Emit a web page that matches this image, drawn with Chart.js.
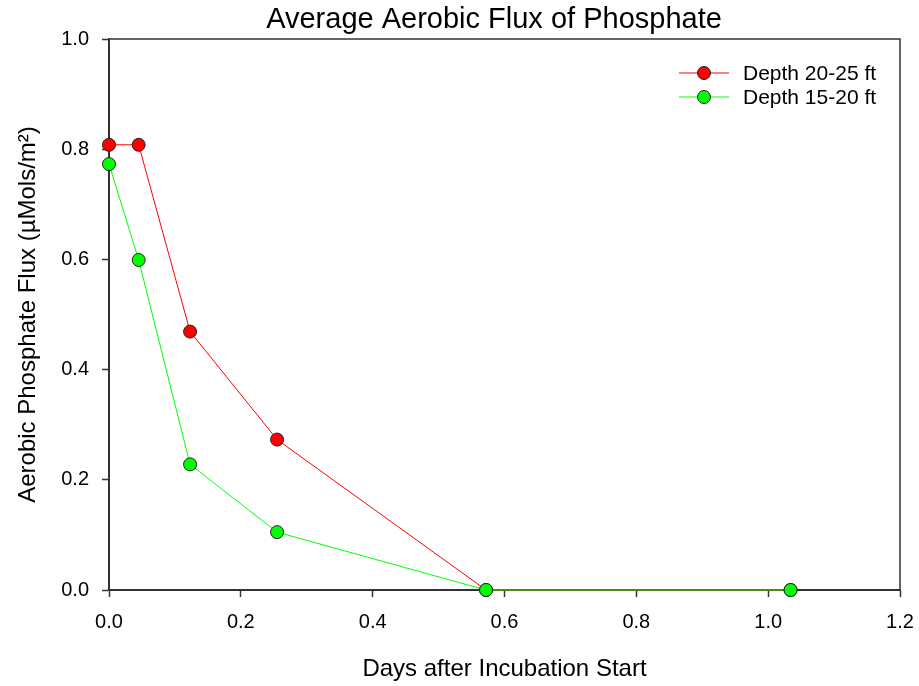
<!DOCTYPE html>
<html>
<head>
<meta charset="utf-8">
<script src="https://cdn.jsdelivr.net/npm/chart.js@4/dist/chart.umd.min.js"></script>
<style>
    html, body { margin: 0; padding: 0; background: #fff; }
    #wrap { width: 919px; height: 686px; position: relative; }
</style>
</head>
<body>
<div id="wrap"><canvas id="fluxChart"></canvas></div>
<script>
// values
const days = [0, 0.045, 0.123, 0.255, 0.572, 1.034];
const depth2025 = [0.808, 0.808, 0.469, 0.273, 0, 0];
const depth1520 = [0.773, 0.599, 0.228, 0.105, 0, 0];
const xTicks = [0, 0.2, 0.4, 0.6, 0.8, 1.0, 1.2];
const yTicks = [0, 0.2, 0.4, 0.6, 0.8, 1.0];

const FONT = "Arial, 'Liberation Sans', sans-serif";
const AXIS = "#333";

const toPoints = (ys) => days.map((d, i) => ({ x: d, y: ys[i] }));

// box round the plot, title and the little legend in the top right
const framePlugin = {
    id: "frame",
    beforeDatasetsDraw(chart) {
        const { ctx, chartArea: a } = chart;
        ctx.save();
        ctx.strokeStyle = AXIS;
        ctx.lineWidth = 1.5;
        ctx.strokeRect(a.left, a.top, a.right - a.left, a.bottom - a.top);
        ctx.restore();
    },
    afterDraw(chart) {
        const { ctx } = chart;
        ctx.save();
        ctx.fillStyle = "#000";
        ctx.font = "29px " + FONT;
        ctx.textAlign = "center";
        ctx.textBaseline = "middle";
        ctx.fillText("Average Aerobic Flux of Phosphate", 494, 20);

        const rows = [73, 97];
        chart.data.datasets.forEach((ds, i) => {
            const y = rows[i];
            ctx.strokeStyle = ds.borderColor;
            ctx.lineWidth = 1;
            ctx.beginPath();
            ctx.moveTo(679, y);
            ctx.lineTo(729, y);
            ctx.stroke();
            ctx.beginPath();
            ctx.arc(704, y, 6.5, 0, Math.PI * 2);
            ctx.fillStyle = ds.pointBackgroundColor;
            ctx.fill();
            ctx.strokeStyle = ds.pointBorderColor;
            ctx.stroke();
            ctx.fillStyle = "#000";
            ctx.font = "21px " + FONT;
            ctx.textAlign = "left";
            ctx.fillText(ds.label, 743, y + 1);
        });
        ctx.restore();
    },
};

new Chart(document.getElementById("fluxChart"), {
    type: "scatter",
    data: {
        datasets: [
            {
                label: "Depth 20-25 ft",
                data: toPoints(depth2025),
                showLine: true,
                borderColor: "#ff0000",
                borderWidth: 1,
                pointBackgroundColor: "#ff0000",
                pointBorderColor: "#222",
                pointBorderWidth: 1,
                pointRadius: 6.5,
                clip: false,
                order: 2,
            },
            {
                label: "Depth 15-20 ft",
                data: toPoints(depth1520),
                showLine: true,
                borderColor: "#00ff00",
                borderWidth: 1,
                pointBackgroundColor: "#00ff00",
                pointBorderColor: "#222",
                pointBorderWidth: 1,
                pointRadius: 6.5,
                clip: false,
                order: 1,
            },
        ],
    },
    options: {
        responsive: true,
        maintainAspectRatio: false,
        animation: false,
        layout: { padding: { top: 39, right: 19, left: 0, bottom: 0 } },
        plugins: {
            legend: { display: false },
            title: { display: false },
            tooltip: { enabled: false },
        },
        scales: {
            x: {
                type: "linear",
                min: 0,
                max: 1.2,
                afterBuildTicks: (s) => { s.ticks = xTicks.map((v) => ({ value: v })); },
                afterFit: (s) => { s.height = 96; s.paddingLeft = 0; s.paddingRight = 0; },
                grid: { display: true, drawOnChartArea: false, drawTicks: true, tickLength: 7, tickColor: AXIS, tickWidth: 1.5 },
                border: { display: true, color: AXIS, width: 2 },
                ticks: {
                    color: "#000",
                    padding: 13,
                    font: { family: FONT, size: 20 },
                    callback: (v) => Number(v).toFixed(1),
                },
                title: {
                    display: true,
                    text: "Days after Incubation Start",
                    color: "#000",
                    font: { family: FONT, size: 24 },
                    padding: { top: 0, bottom: 2 },
                },
            },
            y: {
                type: "linear",
                min: 0,
                max: 1,
                afterBuildTicks: (s) => { s.ticks = yTicks.map((v) => ({ value: v })); },
                afterFit: (s) => { s.width = 109; s.paddingTop = 0; s.paddingBottom = 0; },
                grid: { display: true, drawOnChartArea: false, drawTicks: true, tickLength: 7, tickColor: AXIS, tickWidth: 1.5 },
                border: { display: true, color: AXIS, width: 2 },
                ticks: {
                    color: "#000",
                    padding: 13,
                    font: { family: FONT, size: 20 },
                    callback: (v) => Number(v).toFixed(1),
                },
                title: {
                    display: true,
                    text: "Aerobic Phosphate Flux (\u00b5Mols/m\u00b2)",
                    color: "#000",
                    font: { family: FONT, size: 24 },
                    padding: { top: 14, bottom: 0 },
                },
            },
        },
    },
    plugins: [framePlugin],
});
</script>
</body>
</html>
